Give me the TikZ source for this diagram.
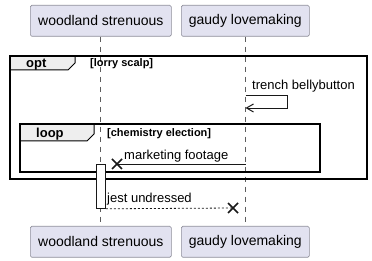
\documentclass[tikz,border=0pt]{standalone}
\usepackage{fontspec}
\setmainfont{Liberation Sans}
\usetikzlibrary{arrows.meta,calc}
\definecolor{partfill}{HTML}{E2E2F0}
\definecolor{partline}{HTML}{8E8E9A}
\definecolor{tabfill}{HTML}{EEEEEE}
\definecolor{ink}{HTML}{181818}
\begin{document}
\begin{tikzpicture}[x=1pt,y=-1pt,
  participant/.style={draw=partline,fill=partfill,rounded corners=1.5pt,line width=0.6pt,
    minimum height=31pt,inner sep=0pt,font=\fontsize{14}{16}\selectfont,anchor=north west},
  lifeline/.style={draw=ink!70,line width=0.5pt,dash pattern=on 5pt off 5pt},
  frameline/.style={draw=black,line width=1.5pt},
  tabline/.style={draw=black,line width=1pt,fill=tabfill},
  msg/.style={draw=ink,line width=0.8pt},
  msgtext/.style={font=\fontsize{13}{15}\selectfont,anchor=base west,inner sep=0pt},
  framelabel/.style={font=\bfseries\fontsize{13}{15}\selectfont,anchor=base west,inner sep=0pt},
  guard/.style={font=\bfseries\fontsize{11}{13}\selectfont,anchor=base west,inner sep=0pt},
  crossmark/.style={draw=ink,line width=1.6pt}]
\useasboundingbox (0,0) rectangle (372,261);

% participants, top and bottom
\node[participant,minimum width=141pt] (wtop) at (30,5) {woodland strenuous};
\node[participant,minimum width=128pt] (gtop) at (181,5) {gaudy lovemaking};
\node[participant,minimum width=141pt] (wbot) at (30,226) {woodland strenuous};
\node[participant,minimum width=128pt] (gbot) at (181,226) {gaudy lovemaking};

% lifelines
\coordinate (wl) at (100.5,0);
\coordinate (gl) at (245.5,0);
\draw[lifeline] (wtop.south -| wl) -- (wbot.north -| wl);
\draw[lifeline] (gtop.south -| gl) -- (gbot.north -| gl);

% opt fragment
\draw[frameline] (10,56) rectangle (367,179);
\draw[tabline] (10,56) -- (75,56) -- (75,63) -- (68,70) -- (10,70) -- cycle;
\draw[frameline] (10,56) rectangle (367,179);
\node[framelabel] (optlbl) at (26,67.5) {opt};
\node[guard] (optguard) at (90,66.5) {[lorry scalp]};

% self message on gaudy lovemaking
\coordinate (s1) at (245.5,95);
\coordinate (s2) at (287,95);
\coordinate (s3) at (287,108);
\coordinate (s4) at (245.5,108);
\node[msgtext] (selflbl) at (252,90) {trench bellybutton};
\draw[msg,-{Straight Barb[length=7pt,width=8pt,line width=1pt]}] (s1) -- (s2) -- (s3) -- (s4);

% loop fragment
\draw[frameline] (20,124) rectangle (320,172);
\draw[tabline] (20,124) -- (94,124) -- (94,134) -- (87,141) -- (20,141) -- cycle;
\draw[frameline] (20,124) rectangle (320,172);
\node[framelabel] (looplbl) at (36,137.5) {loop};
\node[guard] (loopguard) at (107,136.5) {[chemistry election]};

% activation bar on woodland strenuous
\node[draw=ink,fill=white,line width=0.8pt,minimum width=9pt,minimum height=44pt,inner sep=0pt,anchor=north west] (act) at (96,164) {};

% lost message: marketing footage
\coordinate (m1) at (245.5,164);
\coordinate (mx) at (117,164);
\draw[msg] (m1) -- (mx);
\draw[crossmark] ($(mx)+(-5,-5)$) -- ($(mx)+(5,5)$) ($(mx)+(-5,5)$) -- ($(mx)+(5,-5)$);
\node[msgtext] (mktlbl) at (124,160) {marketing footage};

% dashed reply: jest undressed
\coordinate (jx) at (233,208);
\draw[msg,dash pattern=on 2pt off 2pt] (act.south east) -- (jx);
\draw[crossmark] ($(jx)+(-5,-5)$) -- ($(jx)+(5,5)$) ($(jx)+(-5,5)$) -- ($(jx)+(5,-5)$);
\node[msgtext] (jestlbl) at (107,203) {jest undressed};
\end{tikzpicture}
\end{document}
